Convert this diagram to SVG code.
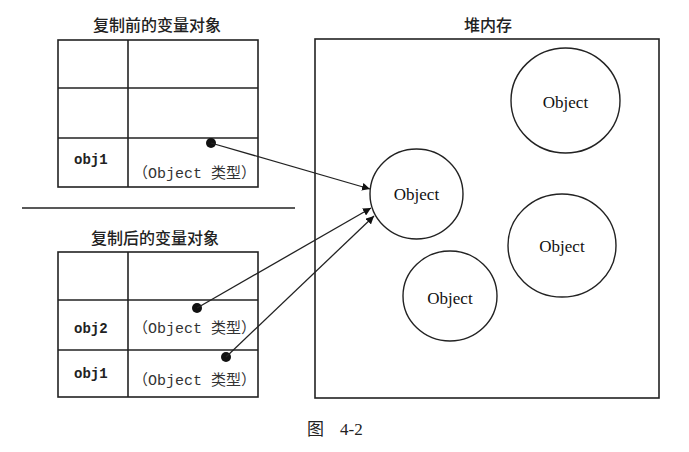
<svg xmlns="http://www.w3.org/2000/svg" width="689" height="452" viewBox="0 0 689 452">
<style>
.ln{fill:none;stroke:#222;stroke-width:1.6}
.cell{fill:#fff;stroke:#222;stroke-width:1.6}
.ttl{font-family:"Noto Sans CJK SC","Noto Sans CJK JP",sans-serif;font-size:16px;fill:#222;text-anchor:middle;font-weight:500}
.var{font-family:"Liberation Mono",monospace;font-size:14px;font-weight:bold;fill:#222}
.typ{font-family:"Liberation Mono","Noto Sans CJK SC",monospace;font-size:15px;fill:#333}
.obj{font-family:"Liberation Serif",serif;font-size:17px;fill:#111;text-anchor:middle}
.cap{font-family:"Liberation Serif","Noto Sans CJK SC",serif;font-size:17px;fill:#222}
.arr{fill:none;stroke:#222;stroke-width:1.3}
.dot{fill:#111}
.circ{fill:#fff;stroke:#222;stroke-width:1.4}
</style>
<defs>
<marker id="ah" viewBox="0 0 10 10" refX="10" refY="5" markerWidth="8" markerHeight="8" markerUnits="userSpaceOnUse" orient="auto">
<path d="M0,0 L10,5 L0,10 z" fill="#111"/>
</marker>
</defs>
<g id="before">
<text class="ttl" x="157" y="31">复制前的变量对象</text>
<rect class="cell" x="58" y="40" width="200" height="147"/>
<line class="ln" x1="128" y1="40" x2="128" y2="187"/>
<line class="ln" x1="58" y1="88" x2="258" y2="88"/>
<line class="ln" x1="58" y1="138" x2="258" y2="138"/>
<text class="var" x="74" y="164">obj1</text>
<text class="typ" x="133" y="178">（Object 类型）</text>
</g>
<line id="separator" class="ln" x1="22" y1="208" x2="295" y2="208"/>
<g id="after">
<text class="ttl" x="155" y="244">复制后的变量对象</text>
<rect class="cell" x="58" y="252" width="200" height="145"/>
<line class="ln" x1="128" y1="252" x2="128" y2="397"/>
<line class="ln" x1="58" y1="300" x2="258" y2="300"/>
<line class="ln" x1="58" y1="350" x2="258" y2="350"/>
<text class="var" x="74" y="333">obj2</text>
<text class="typ" x="133" y="333">（Object 类型）</text>
<text class="var" x="74" y="378">obj1</text>
<text class="typ" x="133" y="385">（Object 类型）</text>
</g>
<g id="heap">
<text class="ttl" x="488" y="31">堆内存</text>
<rect class="cell" x="315" y="39" width="344" height="359"/>
</g>
<g id="obj-a">
<ellipse class="circ" cx="416.5" cy="194" rx="46.5" ry="45"/>
<text class="obj" x="416.5" y="200">Object</text>
</g>
<g id="obj-b">
<ellipse class="circ" cx="565.5" cy="100.5" rx="54.5" ry="52.5"/>
<text class="obj" x="565.5" y="108">Object</text>
</g>
<g id="obj-c">
<ellipse class="circ" cx="562" cy="245.5" rx="54" ry="51.5"/>
<text class="obj" x="562" y="252">Object</text>
</g>
<g id="obj-d">
<ellipse class="circ" cx="450" cy="296" rx="47" ry="45"/>
<text class="obj" x="450" y="304">Object</text>
</g>
<g id="connectors">
<circle class="dot" cx="211" cy="143" r="5"/>
<line class="arr" x1="211" y1="143" x2="370" y2="189" marker-end="url(#ah)"/>
<circle class="dot" cx="197" cy="308" r="5"/>
<line class="arr" x1="197" y1="308" x2="371" y2="208" marker-end="url(#ah)"/>
<circle class="dot" cx="226" cy="357" r="5"/>
<line class="arr" x1="226" y1="357" x2="374" y2="216" marker-end="url(#ah)"/>
</g>
<text id="caption" class="cap" x="307" y="435">图<tspan x="340">4-2</tspan></text>
</svg>
